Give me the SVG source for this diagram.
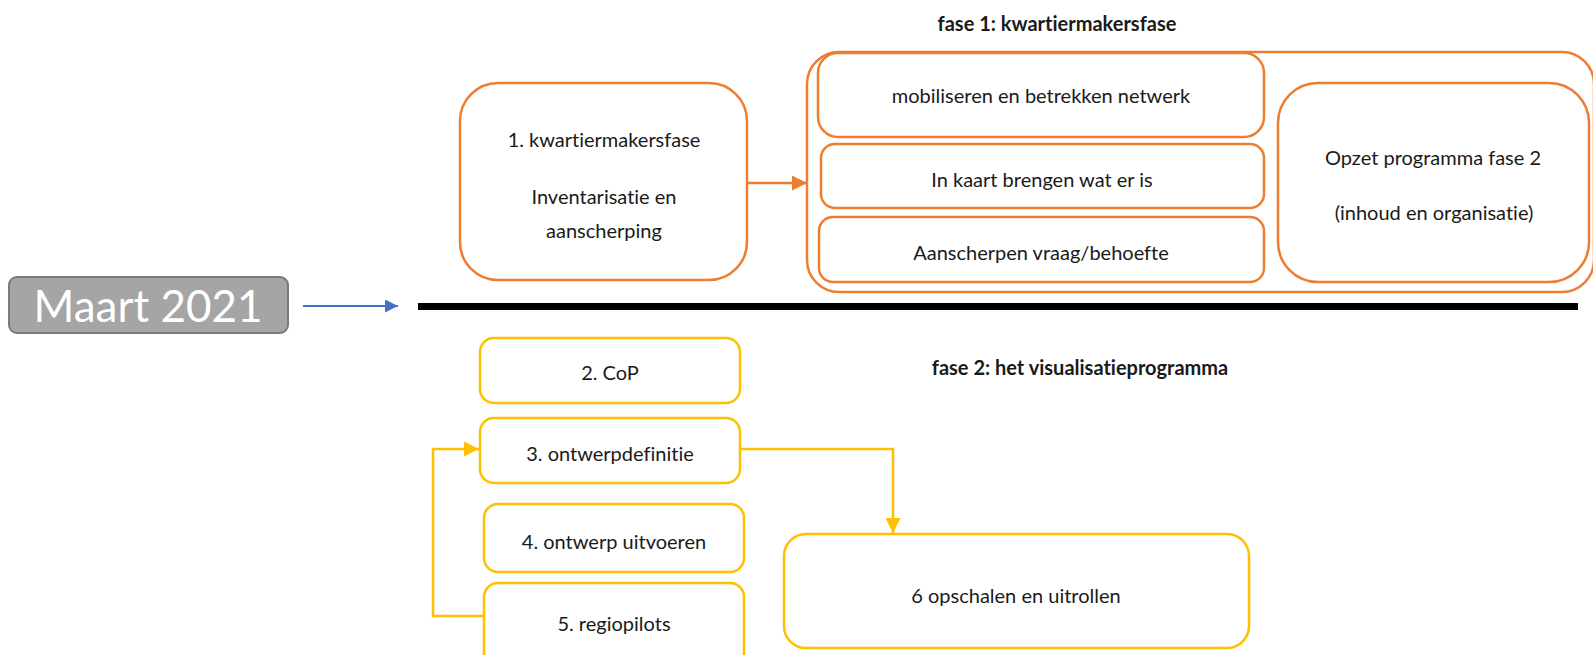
<svg xmlns="http://www.w3.org/2000/svg" width="1593" height="655" viewBox="0 0 1593 655">
<defs>
<style>
text{font-family:Lato,"Open Sans","Liberation Sans",sans-serif;font-size:20px;fill:#1a1a1a;text-anchor:middle;font-variant-ligatures:none;font-feature-settings:"liga" 0,"dlig" 0}
.t{font-weight:bold}
.o{fill:#fff;stroke:#ED7D31;stroke-width:2.5}
.y{fill:#fff;stroke:#FFC000;stroke-width:2.5}
.ol{fill:none;stroke:#ED7D31;stroke-width:2.5}
.yl{fill:none;stroke:#FFC000;stroke-width:2.5}
</style>
<marker id="ao" viewBox="0 0 10 10" refX="10" refY="5" markerUnits="userSpaceOnUse" markerWidth="15" markerHeight="15" orient="auto"><path d="M0,0L10,5L0,10z" fill="#ED7D31"/></marker>
<marker id="ay" viewBox="0 0 10 10" refX="10" refY="5" markerUnits="userSpaceOnUse" markerWidth="15" markerHeight="15" orient="auto"><path d="M0,0L10,5L0,10z" fill="#FFC000"/></marker>
<marker id="ab" viewBox="0 0 10 10" refX="10" refY="5" markerUnits="userSpaceOnUse" markerWidth="13" markerHeight="13" orient="auto"><path d="M0,0L10,5L0,10z" fill="#4472C4"/></marker>
</defs>
<rect width="1593" height="655" fill="#fff"/>
<text class="t" x="1057" y="31">fase 1: kwartiermakersfase</text>
<text class="t" x="1080" y="375">fase 2: het visualisatieprogramma</text>
<g id="maart">
<rect x="9" y="277" width="279" height="56" rx="8" fill="#A5A5A5" stroke="#7A7A7A" stroke-width="2"/>
<text x="148" y="322" style="font-size:44px;fill:#fff">Maart 2021</text>
</g>
<line x1="418" y1="306.5" x2="1578" y2="306.5" stroke="#000" stroke-width="7"/>
<g id="n1">
<rect class="o" x="460" y="83" width="287" height="197" rx="38"/>
<text x="604" y="147">1. kwartiermakersfase</text>
<text x="604" y="204">Inventarisatie en</text>
<text x="604" y="238">aanscherping</text>
</g>
<g id="fase1">
<rect class="o" x="807" y="52" width="787" height="240" rx="32"/>
</g>
<g id="mobiliseren">
<rect class="o" x="818" y="53" width="446" height="84" rx="20"/>
<text x="1041" y="103">mobiliseren en betrekken netwerk</text>
</g>
<g id="inkaart">
<rect class="o" x="821" y="144" width="443" height="64" rx="14"/>
<text x="1042" y="187">In kaart brengen wat er is</text>
</g>
<g id="aanscherpen">
<rect class="o" x="819" y="217" width="445" height="65" rx="14"/>
<text x="1041" y="260">Aanscherpen vraag/behoefte</text>
</g>
<g id="opzet">
<rect class="o" x="1278" y="83" width="311" height="199" rx="40"/>
<text x="1433" y="165">Opzet programma fase 2</text>
<text x="1434" y="220">(inhoud en organisatie)</text>
</g>
<g id="n2">
<rect class="y" x="480" y="338" width="260" height="65" rx="14"/>
<text x="610" y="380">2. CoP</text>
</g>
<g id="n3">
<rect class="y" x="480" y="418" width="260" height="65" rx="14"/>
<text x="610" y="461">3. ontwerpdefinitie</text>
</g>
<g id="n4">
<rect class="y" x="484" y="504" width="260" height="68" rx="14"/>
<text x="614" y="549">4. ontwerp uitvoeren</text>
</g>
<g id="n5">
<rect class="y" x="484" y="583" width="260" height="84" rx="14"/>
<text x="614" y="631">5. regiopilots</text>
</g>
<g id="n6">
<rect class="y" x="784" y="534" width="465" height="114" rx="22"/>
<text x="1016" y="603">6 opschalen en uitrollen</text>
</g>
<g id="connectors">
<line x1="303" y1="306" x2="398" y2="306" stroke="#4472C4" stroke-width="2" marker-end="url(#ab)"/>
<line class="ol" x1="747" y1="183" x2="807" y2="183" marker-end="url(#ao)"/>
<polyline class="yl" points="484,616 433,616 433,449 479,449" marker-end="url(#ay)"/>
<polyline class="yl" points="740,449 893,449 893,533" marker-end="url(#ay)"/>
</g>
</svg>
